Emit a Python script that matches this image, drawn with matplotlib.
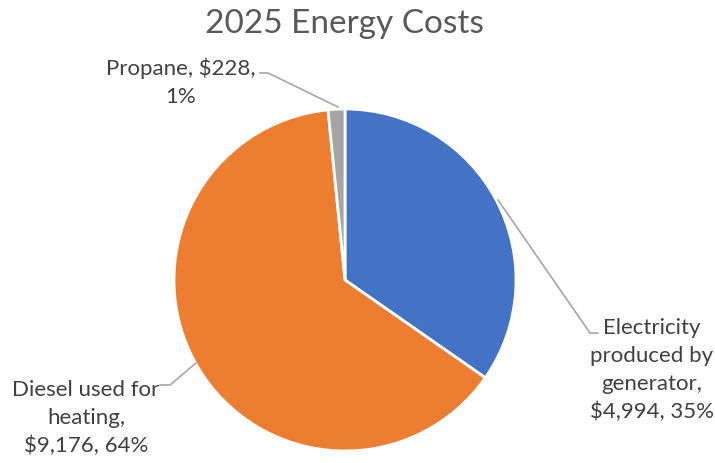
import matplotlib
matplotlib.use("Agg")
import matplotlib.pyplot as plt

plt.rcParams['font.family'] = ['Lato', 'DejaVu Sans']

labels  = ['Electricity\nproduced by\ngenerator,', 'Diesel used for\nheating,', 'Propane, $228,']
costs   = [4994, 9176, 228]
colors  = ['#4472C4', '#ED7D31', '#A5A5A5']
pcts    = [35, 64, 1]

W, H = 715, 463
fig = plt.figure(figsize=(W/100., H/100.), dpi=100)
ax  = fig.add_axes([0, 0, 1, 1])

# pie centre and radius in pixel units (y measured from bottom)
cx, cy, r = 345., H-280., 171.
ax.pie(costs, colors=colors, startangle=90, counterclock=False,
       center=(cx, cy), radius=r, frame=True,
       wedgeprops=dict(edgecolor='white', linewidth=2))
ax.set_xlim(0, W)
ax.set_ylim(0, H)
ax.set_aspect('equal')
ax.axis('off')

ax.text(W/2.+(344-357), H-24, '2025 Energy Costs', ha='center', va='center',
        fontsize=24, color='#595959')

tc  = '#404040'
lc  = '#A6A6A6'
fs  = 16
ls  = 1.5

def money(v):
    return '${:,}'.format(v)

# electricity
ax.text(652, H-370, labels[0] + '\n' + money(costs[0]) + ', %d%%' % pcts[0],
        ha='center', va='center', fontsize=fs, color=tc, linespacing=ls)
ax.plot([498, 590, 598], [H-200, H-333, H-333], color=lc, lw=1.2)

# diesel
ax.text(86, H-418, labels[1] + '\n' + money(costs[1]) + ', %d%%' % pcts[1],
        ha='center', va='center', fontsize=fs, color=tc, linespacing=ls)
ax.plot([160, 170, 196], [H-385, H-385, H-363], color=lc, lw=1.2)

# propane
ax.text(181, H-82, labels[2] + '\n%d%%' % pcts[2],
        ha='center', va='center', fontsize=fs, color=tc, linespacing=ls)
ax.plot([260, 268, 338], [H-73, H-73, H-107], color=lc, lw=1.2)

fig.savefig('out.png', dpi=100, facecolor='white')
